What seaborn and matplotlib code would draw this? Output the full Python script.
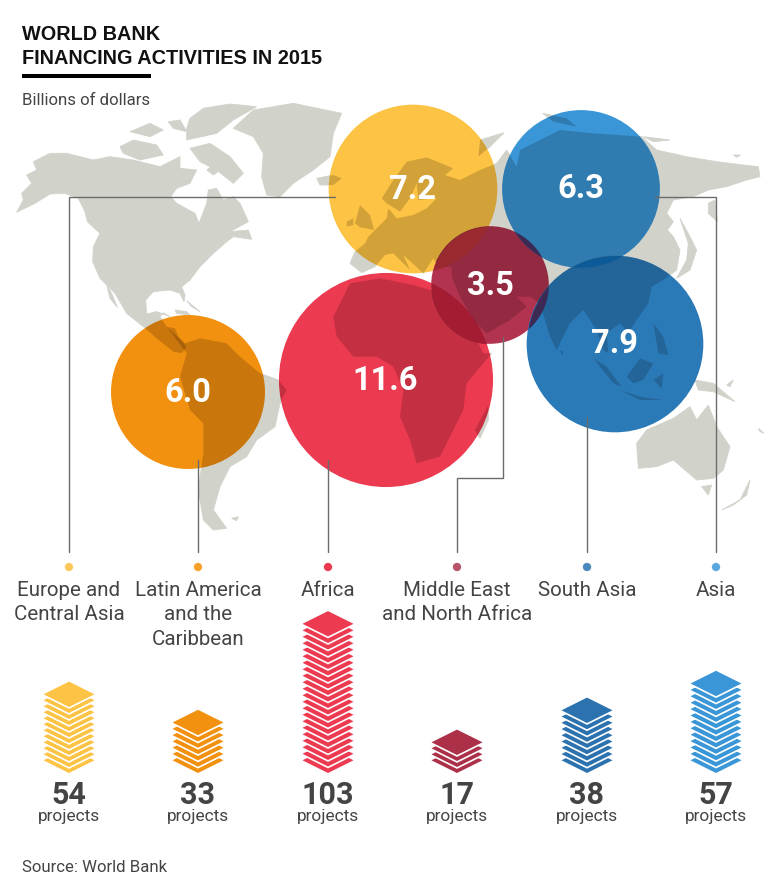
import numpy as np
import pandas as pd
import seaborn as sns
import matplotlib.pyplot as plt
from matplotlib.patches import Circle

sns.set_theme(style="white")
plt.rcParams['font.family'] = ['Roboto', 'DejaVu Sans']

W, H = 778, 891

# the six regions, left to right along the bottom
regions = ['Europe and\nCentral Asia', 'Latin America\nand the\nCaribbean', 'Africa',
           'Middle East\nand North Africa', 'South Asia', 'Asia']
billions = [7.2, 6.0, 11.6, 3.5, 7.9, 6.3]
projects = [54, 33, 103, 17, 38, 57]
sheets = [11, 6, 21, 3, 8, 12]
sheet_step = [6.0, 6.3, 6.5, 6.0, 6.25, 6.4]
colors = ['#fdc344', '#f2900f', '#ec3a50', '#b23350', '#2b7ab8', '#3a96d6']
stack_colors = ['#fdc344', '#f2900f', '#ec3a50', '#ab3048', '#2b72ae', '#3a96d6']
dot_colors = ['#fdc95a', '#f6a12e', '#ec3a50', '#b5546b', '#4a88bd', '#5aa9de']

# bubble centres on the map (pixels of the picture)
bubble_x = [413, 188, 386, 490, 615, 581]
bubble_y = [189, 392, 380, 285, 344, 189]
label_x = [413, 188, 385, 490, 615, 581]
label_y = [190, 393, 381, 286, 344, 189]
bottom_x = [69, 198, 328, 457, 587, 716]

# where two bubbles cross, and the colour seen there
overlaps = [(0, 3, '#9a2a30'), (2, 3, '#a31c32'), (5, 3, '#3c2a55'), (5, 4, '#0c5a98'), (3, 4, '#3c2a55')]

map_color = '#d1d3cb'

# rough world map outlines, [x, y] in a 3x crop, offset later
z1 = [
    # north america
    [(50,367),(105,340),(150,312),(195,310),(235,325),(255,365),(262,395),(300,430),(280,470),(278,515),(300,565),(325,590),(345,610),(380,670),(430,710),(470,745),(520,785),(545,790),(560,770),(535,740),(525,715),(500,710),(480,680),(490,668),(510,680),(470,665),(440,672),(437,630),(460,605),(510,600),(540,610),(552,635),(555,615),(545,590),(570,570),(600,530),(640,490),(680,455),(700,440),(755,448),(745,420),(690,425),(745,395),(720,340),(700,320),(670,330),(650,295),(625,300),(620,340),(597,400),(585,370),(530,340),(512,320),(530,295),(570,280),(590,240),(540,235),(540,200),(480,230),(400,210),(330,200),(280,210),(200,190),(150,190),(100,215),(110,240),(80,255),(95,280),(65,310),(70,330)],
    # baja
    [(320,585),(335,610),(352,652),(330,625)],
    # arctic islands
    [(570,175),(630,160),(690,200),(730,250),(700,280),(650,240),(600,215)],
    [(360,170),(400,150),(470,165),(490,195),(420,210),(370,190)],
    [(390,125),(450,100),(490,120),(450,140)],
    [(505,95),(540,90),(560,125),(520,115)],
    [(570,85),(610,55),(690,42),(770,50),(700,90),(650,130),(560,150),(560,115)],
    [(620,240),(640,225),(660,240),(640,255)],
    # caribbean
    [(560,632),(600,665),(575,650)],
    [(525,660),(560,665),(570,675),(530,670)],
    # greenland
    [(700,115),(760,60),(880,40),(1025,70),(1000,130),(990,200),(940,240),(880,280),(840,320),(800,315),(785,260),(790,190),(760,140)],
    # iceland
    [(950,265),(1000,255),(1025,265),(1000,285),(960,285)],
    # south america
    [(500,710),(555,760),(600,745),(680,760),(720,800),(780,850),(835,870),(860,900),(840,940),(825,1010),(770,1050),(740,1100),(690,1130),(660,1190),(640,1260),(680,1315),(640,1320),(610,1290),(595,1200),(610,1090),(610,1000),(570,960),(540,860),(560,790)],
    [(695,1285),(715,1280),(710,1292)],
    # britain, ireland
    [(1065,400),(1080,345),(1110,375),(1122,420),(1080,412)],
    [(1040,395),(1060,385),(1060,405),(1040,410)],
]
# crop of the right half, x is 1140 further along
z2 = [
    # eurasia
    [(-75,485),(-90,520),(-55,548),(-15,530),(15,495),(40,490),(90,540),(70,495),(130,550),(160,505),(175,530),(215,530),(215,560),(240,620),(280,690),(320,730),(390,690),(440,650),(410,620),(450,620),(480,640),(510,740),(530,780),(570,700),(610,660),(650,720),(670,780),(685,790),(680,730),(720,700),(745,730),(770,690),(805,640),(815,590),(850,570),(890,540),(900,480),(880,440),(862,420),(880,395),(860,370),(880,330),(940,320),(985,300),(1040,290),(1100,270),(1140,260),(1135,230),(1090,225),(1010,215),(920,200),(830,180),(785,140),(640,130),(540,120),(480,150),(420,180),(410,230),(380,180),(350,220),(300,240),(240,270),(195,255),(220,235),(140,202),(80,215),(40,270),(5,325),(20,340),(60,365),(90,325),(110,280),(115,330),(170,325),(140,355),(100,375),(50,385),(25,355),(20,385),(-35,440),(-45,460)],
    # kamchatka, sakhalin
    [(985,340),(1005,330),(1012,395),(985,370)],
    # novaya zemlya etc
    [(300,150),(372,128),(330,170),(295,200)],
    [(488,70),(560,85),(590,110),(520,95)],
    [(790,140),(830,145),(870,150),(820,155)],
    [(1060,195),(1082,195),(1070,202)],
    # japan
    [(900,385),(930,440),(950,480),(930,540),(890,565),(920,510),(925,460)],
    # africa
    [(-90,580),(-140,680),(-130,740),(-80,800),(-10,800),(40,830),(70,900),(60,980),(90,1050),(110,1120),(180,1100),(220,1020),(250,960),(260,880),(335,790),(310,790),(280,730),(240,640),(190,610),(150,600),(100,585),(0,565)],
    # madagascar
    [(285,1020),(325,945),(325,990),(300,1045)],
    # sri lanka
    [(540,780),(550,785),(545,795)],
    # australia
    [(770,1060),(800,1020),(880,985),(930,950),(950,990),(985,945),(1010,1010),(1050,1070),(1030,1140),(1000,1165),(950,1170),(880,1110),(830,1130),(775,1135)],
    [(965,1190),(995,1185),(985,1215)],
    # new zealand
    [(1025,1260),(1080,1230),(1110,1170),(1100,1215),(1060,1245)],
    # indonesia, philippines, new guinea
    [(740,860),(780,805),(820,820),(790,870),(760,880)],
    [(640,805),(680,830),(725,890),(700,880)],
    [(720,900),(780,920),(850,930),(780,930)],
    [(820,870),(850,850),(845,895)],
    [(820,700),(850,740),(865,795),(835,790)],
    [(945,870),(1000,880),(1065,935),(1000,905),(955,900)],
    [(1040,885),(1060,870),(1050,890)],
    [(1135,1015),(1152,1030),(1140,1025)],
]


def to_px(points, off_x):
    arr = np.array(points, dtype=float)
    return arr[:, 0] / 3 + off_x, arr[:, 1] / 3 + 90


map_polys = [to_px(p, 0) for p in z1] + [to_px(p, 380) for p in z2]


def radius(v):
    return 31.43 * np.sqrt(v)


def size_pts(v):
    # scatter size in points^2 for a bubble with this radius in pixels
    return (2 * radius(v) * 72 / 100) ** 2


fig = plt.figure(figsize=(W / 100, H / 100), dpi=100)
ax = fig.add_axes([0, 0, 1, 1])
ax.set_xlim(0, W)
ax.set_ylim(H, 0)
ax.axis('off')

for xs, ys in map_polys:
    ax.fill(xs, ys, color=map_color, lw=0.6, zorder=1)

bubbles = pd.DataFrame({'x': bubble_x, 'y': bubble_y, 'region': regions, 'value': billions})
bubbles['s'] = [size_pts(v) for v in billions]
sns.scatterplot(data=bubbles, x='x', y='y', hue='region', palette=colors, s=bubbles['s'].values,
                linewidth=0, alpha=1, legend=False, ax=ax, zorder=2)
ax.set_xlabel('')
ax.set_ylabel('')


def clip_circle(i):
    return Circle((bubble_x[i], bubble_y[i]), radius(billions[i]), transform=ax.transData)


# map shows through each bubble
for i in range(len(regions)):
    for xs, ys in map_polys:
        for poly in ax.fill(xs, ys, color='black', alpha=0.17, lw=0, zorder=3):
            poly.set_clip_path(clip_circle(i))

# crossings go on top of the map
for a, b, c in overlaps:
    sc = ax.scatter([bubble_x[b]], [bubble_y[b]], s=size_pts(billions[b]), color=[c], linewidth=0, zorder=4)
    sc.set_clip_path(clip_circle(a))

for i, v in enumerate(billions):
    ax.text(label_x[i], label_y[i], f'{v:.1f}', color='white', fontsize=23.5, fontweight='bold',
            ha='center', va='center', zorder=6)

# connector lines
line_color = '#6b6b6b'
leaders = [
    ([335, 69, 69], [197, 197, 552]),
    ([198, 198], [460, 552]),
    ([328, 328], [460, 552]),
    ([503, 503, 457, 457], [337, 478, 478, 552]),
    ([587, 587], [417, 552]),
    ([655, 716, 716], [197, 197, 552]),
]
for xs, ys in leaders:
    ax.plot(xs, ys, color=line_color, lw=1.0, zorder=5, solid_joinstyle='miter')

sns.scatterplot(x=bottom_x, y=[567] * 6, hue=regions, palette=dot_colors, s=36, linewidth=0,
                legend=False, ax=ax, zorder=5)

# region names
for i, name in enumerate(regions):
    for k, line in enumerate(name.split('\n')):
        ax.text(bottom_x[i], 590.5 + k * 24.5, line, color='#444444', fontsize=14.8, ha='center', va='center')

# project stacks
half_w = 25.5
half_h = 12.7
base_y = 773
notch = 0.8
gap = 1.9


def rhomb(cx, cy, off):
    return [cx - half_w + off, cx, cx + half_w - off, cx], [cy, cy - half_h + off / 2, cy, cy + half_h - off / 2]


for i, n in enumerate(projects):
    cx = bottom_x[i]
    step = sheet_step[i]
    for k in range(sheets[i] + 1):
        cy = base_y - half_h - k * step
        xs, ys = rhomb(cx, cy, 0)
        ax.fill(xs, ys, color=stack_colors[i], lw=0, zorder=2)
        if k < sheets[i]:
            xs, ys = rhomb(cx, cy - step + gap + notch / 2, notch)
            ax.fill(xs, ys, color='white', lw=0, zorder=2)
    ax.text(cx, 795, str(n), color='#444444', fontsize=22, fontweight='bold', ha='center', va='center')
    ax.text(cx, 817, 'projects', color='#444444', fontsize=12.4, ha='center', va='center')

# headings
title_font = ['Liberation Sans', 'DejaVu Sans']
ax.text(22, 34, 'WORLD BANK', color='#111111', fontsize=14.3, fontweight='bold', family=title_font, ha='left', va='center')
ax.text(22, 59, 'FINANCING ACTIVITIES IN 2015', color='#111111', fontsize=14.3, fontweight='bold', family=title_font, ha='left', va='center')
ax.plot([22, 151], [75.5, 75.5], color='black', lw=2.9, solid_capstyle='butt')
ax.text(22, 100.5, 'Billions of dollars', color='#444444', fontsize=12.1, ha='left', va='center')
ax.text(22, 868, 'Source: World Bank', color='#444444', fontsize=12.1, ha='left', va='center')

fig.savefig('out.png', dpi=100)
